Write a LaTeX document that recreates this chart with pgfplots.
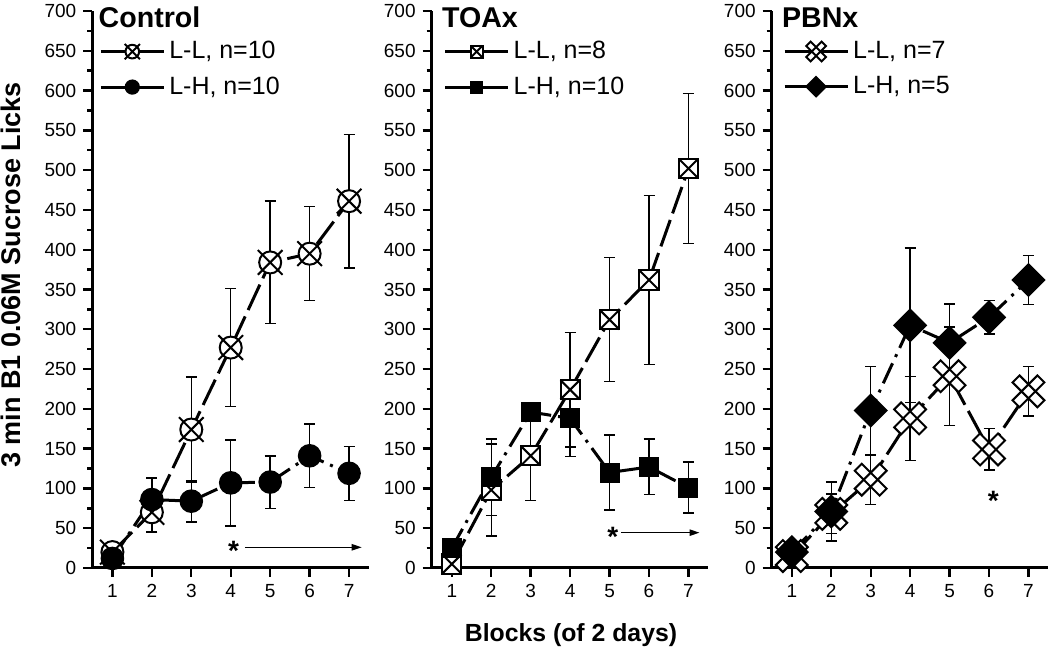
\documentclass[border=0pt]{standalone}
\usepackage{pgfplots}
\pgfplotsset{compat=1.18}
\usepackage{fontspec}
\setmainfont{Liberation Sans}
\usetikzlibrary{arrows.meta,plotmarks}

% circle with X
\pgfdeclareplotmark{ocross}{%
  \pgfpathcircle{\pgfpointorigin}{\pgfplotmarksize}%
  \pgfusepathqfillstroke
  \pgfpathmoveto{\pgfqpoint{-1.12\pgfplotmarksize}{-1.12\pgfplotmarksize}}%
  \pgfpathlineto{\pgfqpoint{1.12\pgfplotmarksize}{1.12\pgfplotmarksize}}%
  \pgfpathmoveto{\pgfqpoint{-1.12\pgfplotmarksize}{1.12\pgfplotmarksize}}%
  \pgfpathlineto{\pgfqpoint{1.12\pgfplotmarksize}{-1.12\pgfplotmarksize}}%
  \pgfusepathqstroke
}
% square with X
\pgfdeclareplotmark{sqx}{%
  \pgfpathrectangle{\pgfqpoint{-\pgfplotmarksize}{-\pgfplotmarksize}}{\pgfqpoint{2\pgfplotmarksize}{2\pgfplotmarksize}}%
  \pgfusepathqfillstroke
  \pgfpathmoveto{\pgfqpoint{-\pgfplotmarksize}{-\pgfplotmarksize}}%
  \pgfpathlineto{\pgfqpoint{\pgfplotmarksize}{\pgfplotmarksize}}%
  \pgfpathmoveto{\pgfqpoint{-\pgfplotmarksize}{\pgfplotmarksize}}%
  \pgfpathlineto{\pgfqpoint{\pgfplotmarksize}{-\pgfplotmarksize}}%
  \pgfusepathqstroke
}
% filled diamond (square rotated)
\pgfdeclareplotmark{bdiam}{%
  \pgfpathmoveto{\pgfqpoint{0pt}{\pgfplotmarksize}}%
  \pgfpathlineto{\pgfqpoint{\pgfplotmarksize}{0pt}}%
  \pgfpathlineto{\pgfqpoint{0pt}{-\pgfplotmarksize}}%
  \pgfpathlineto{\pgfqpoint{-\pgfplotmarksize}{0pt}}%
  \pgfpathclose
  \pgfusepathqfillstroke
}
% open X made of two crossed bars
\def\openxa{%
  \pgfpathmoveto{\pgfqpoint{0.509\pgfplotmarksize}{0.905\pgfplotmarksize}}%
  \pgfpathlineto{\pgfqpoint{0.905\pgfplotmarksize}{0.509\pgfplotmarksize}}%
  \pgfpathlineto{\pgfqpoint{-0.509\pgfplotmarksize}{-0.905\pgfplotmarksize}}%
  \pgfpathlineto{\pgfqpoint{-0.905\pgfplotmarksize}{-0.509\pgfplotmarksize}}%
  \pgfpathclose}
\def\openxb{%
  \pgfpathmoveto{\pgfqpoint{-0.509\pgfplotmarksize}{0.905\pgfplotmarksize}}%
  \pgfpathlineto{\pgfqpoint{-0.905\pgfplotmarksize}{0.509\pgfplotmarksize}}%
  \pgfpathlineto{\pgfqpoint{0.509\pgfplotmarksize}{-0.905\pgfplotmarksize}}%
  \pgfpathlineto{\pgfqpoint{0.905\pgfplotmarksize}{-0.509\pgfplotmarksize}}%
  \pgfpathclose}
\pgfdeclareplotmark{openx}{%
  \openxa\pgfusepathqfill
  \openxb\pgfusepathqfill
  \openxa\openxb\pgfusepathqstroke
}

\tikzset{
  ttl/.style={font=\bfseries\fontsize{14.3}{16}\selectfont, anchor=base west, inner sep=0pt},
  star/.style={font=\bfseries\fontsize{14}{16}\selectfont, inner sep=0pt, yshift=-3pt},
  sigarrow/.style={-{Triangle[length=5pt,width=3.2pt]}, line width=0.6pt},
}

\pgfplotsset{
  panel/.style={
    anchor=south west,
    x=19.72pt, y=0.39786pt,
    xmin=0.49, xmax=7.5, ymin=0, ymax=700,
    axis lines=left, axis line style={-, line width=1.5pt},
    xtick={1,...,7}, ytick={0,50,...,700}, minor ytick={25,75,...,675},
    tick align=outside, tick pos=left,
    major tick length=4.5pt, minor tick length=2.5pt,
    every tick/.style={black, line width=1.2pt},
    tick label style={font=\fontsize{9.5}{11}\selectfont},
    /pgf/number format/assume math mode=true,
    clip=false,
    legend cell align=left,
    legend style={draw=none, fill=none, at={(rel axis cs:0,1)}, anchor=north west,
      yshift=-13pt, inner sep=0pt, row sep=3.5pt,
      font=\fontsize{12.5}{14}\selectfont},
    legend image code/.code={%
      \draw[##1, solid, line width=1.5pt] (0pt,0pt) -- (31.5pt,0pt);
      \draw[##1, solid, /tikz/every mark/.append style={scale=0.62}] plot[only marks] coordinates {(15.75pt,0pt)};
    },
  },
  ebar/.style={forget plot, only marks, mark=none,
    error bars/.cd, y dir=both, y explicit, error mark=-,
    error bar style={line width=0.7pt, black, solid},
    error mark options={rotate=90, line width=0.7pt, mark size=2.75pt, black, solid}},
  LL/.style={black, line width=1.5pt, dash pattern=on 14pt off 3.5pt,
    mark options={solid, fill=white, draw=black, line width=1pt}},
  LH/.style={black, line width=1.5pt, dash pattern=on 11pt off 3.5pt on 1.5pt off 3.5pt,
    mark options={solid, fill=black, draw=black, line width=0.8pt}},
}

\begin{document}
\begin{tikzpicture}
\useasboundingbox (-46.15pt,-40pt) rectangle (478.85pt,284pt);

% ---------------- Control ----------------
\begin{axis}[panel, at={(0pt,0pt)}, legend style={xshift=3.3pt}]
\addplot[ebar] table[x=x, y=y, y error=e] {
x y e
1 20 8
2 70 25
3 174 66
4 277 74
5 384 77
6 395 59
7 461 84
};
\addplot[ebar] table[x=x, y=y, y error=e] {
x y e
1 12 6
2 86 27
3 84 26
4 107 54
5 108 33
6 141 40
7 119 34
};
\addplot[LL, mark=ocross, mark size=5.5pt] table[x=x, y=y] {
x y
1 20
2 70
3 174
4 277
5 384
6 395
7 461
};
\addlegendentry{L-L, n=10}
\addplot[LH, mark=*, mark size=5.5pt] table[x=x, y=y] {
x y
1 12
2 86
3 84
4 107
5 108
6 141
7 119
};
\addlegendentry{L-H, n=10}
\node[ttl] at (rel axis cs:0,1) [xshift=3pt, yshift=-8.5pt] {Control};
\node[star] at (axis cs:4.07,29) {*};
\draw[sigarrow] (axis cs:4.36,26) -- (axis cs:7.32,26);
\end{axis}

% ---------------- TOAx ----------------
\begin{axis}[panel, at={(169.7pt,0pt)}, legend style={xshift=5.8pt}]
\addplot[ebar] table[x=x, y=y, y error=e] {
x y e
1 5 5
2 98 58
3 141 56
4 224 72
5 312 78
6 362 106
7 502 94
};
\addplot[ebar] table[x=x, y=y, y error=e] {
x y e
1 25 8
2 114 48
3 196 12
4 188 48
5 120 47
6 127 35
7 101 32
};
\addplot[LL, mark=sqx, mark size=4.8pt] table[x=x, y=y] {
x y
1 5
2 98
3 141
4 224
5 312
6 362
7 502
};
\addlegendentry{L-L, n=8}
\addplot[LH, mark=square*, mark size=4.6pt] table[x=x, y=y] {
x y
1 25
2 114
3 196
4 188
5 120
6 127
7 101
};
\addlegendentry{L-H, n=10}
\node[ttl] at (rel axis cs:0,1) [xshift=5pt, yshift=-8.5pt] {TOAx};
\node[star] at (axis cs:5.08,46.5) {*};
\draw[sigarrow] (axis cs:5.29,44.4) -- (axis cs:7.28,44.4);
\end{axis}

% ---------------- PBNx ----------------
\begin{axis}[panel, at={(339.7pt,0pt)}, legend style={xshift=5.5pt}]
\addplot[ebar] table[x=x, y=y, y error=e] {
x y e
1 15 10
2 68 25
3 111 31
4 188 53
5 241 62
6 149 26
7 222 31
};
\addplot[ebar] table[x=x, y=y, y error=e] {
x y e
1 20 10
2 71 37
3 198 55
4 305 97
5 283 49
6 315 21
7 362 31
};
\addplot[LL, mark=openx, mark size=8.8pt] table[x=x, y=y] {
x y
1 15
2 68
3 111
4 188
5 241
6 149
7 222
};
\addlegendentry{L-L, n=7}
\addplot[LH, mark=bdiam, mark size=8pt] table[x=x, y=y] {
x y
1 20
2 71
3 198
4 305
5 283
6 315
7 362
};
\addlegendentry{L-H, n=5}
\node[ttl] at (rel axis cs:0,1) [xshift=5pt, yshift=-8.5pt] {PBNx};
\node[star] at (axis cs:6.11,92) {*};
\end{axis}

\node[font=\bfseries\fontsize{13.5}{15}\selectfont, rotate=90] at (-40.65pt,146.5pt) {3 min B1 0.06M Sucrose Licks};
\node[font=\bfseries\fontsize{12.4}{14}\selectfont] at (239.35pt,-33.5pt) {Blocks (of 2 days)};
\end{tikzpicture}
\end{document}
